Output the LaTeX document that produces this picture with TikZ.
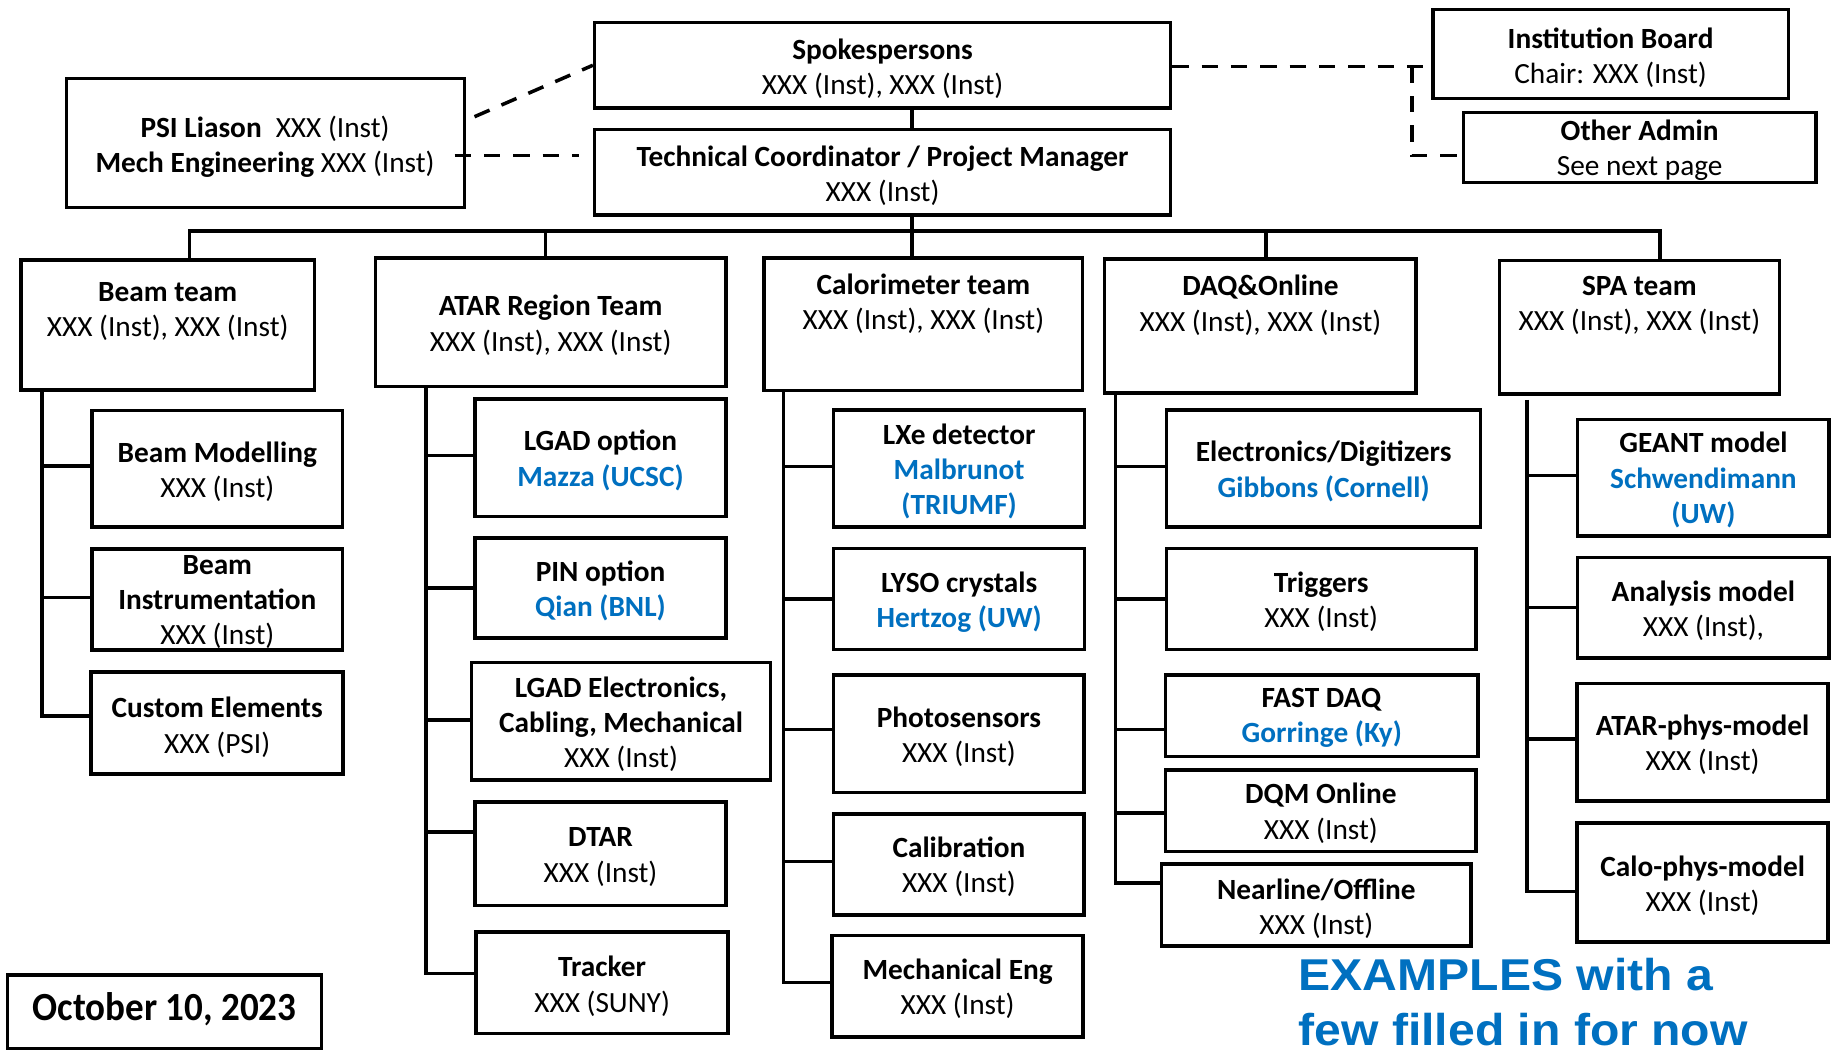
\documentclass[tikz,border=0pt]{standalone}
\usepackage{fontspec}
\usepackage{graphicx}
\setmainfont{Carlito}
\newfontfamily\arialfont{Liberation Sans}
\usetikzlibrary{fit,calc}
\definecolor{myblue}{RGB}{0,112,192}
\newcommand{\mystrut}{\vphantom{(}}
\newcommand{\bl}[1]{\textcolor{myblue}{\textbf{#1}}}
\newcommand{\branch}[3]{\draw[conn] ($(#2.west -| #1)+(0,#3)$) -- ($(#2.west)+(0,#3)$);}
\begin{document}
\begin{tikzpicture}[x=1pt,y=-1pt,
  box/.style={draw, line width=3pt, inner sep=0pt, rectangle},
  txt/.style={align=center, inner sep=0pt, font={\fontsize{25}{30}\selectfont},
    execute at begin node=\mystrut, execute at end node=\mystrut},
  conn/.style={line width=3pt},
  dsh/.style={line width=3pt, dash pattern=on 14pt off 11pt}]
\fill[white] (0,0) rectangle (1568,895);
\useasboundingbox (0,0) rectangle (1568,895);

% ---- top level ----
\node[box, fit={(507,19.3)(998,92)}] (spk) {};
\node[txt] (spk-t) at (752.5,58.5) {\textbf{Spokespersons}\\XXX (Inst), XXX (Inst)};
\node[box, fit={(507,110.3)(998,183.3)}] (tc) {};
\node[txt] (tc-t) at (752.5,149.5) {\textbf{Technical Coordinator / Project Manager}\\XXX (Inst)};
\node[box, fit={(56.6,66.8)(396.2,177.1)}] (psi) {};
\node[txt] (psi-t) at (226,125.3) {\textbf{PSI Liason}\hspace{12pt}XXX (Inst)\\\textbf{Mech Engineering} XXX (Inst)};
\node[box, fit={(1221.6,8)(1524.8,83.8)}] (ib) {};
\node[txt] (ib-t) at (1373.2,49) {\textbf{Institution Board}\\Chair: XXX (Inst)};
\node[box, fit={(1247.7,96)(1548.4,155.8)}] (oa) {};
\node[txt] (oa-t) at (1398,127.8) {\textbf{Other Admin}\\See next page};

% ---- teams ----
\node[box, fit={(17.8,221.7)(268,332.5)}] (beam) {};
\node[txt] (beam-t) at (143,265.8) {\textbf{Beam team}\\XXX (Inst), XXX (Inst)};
\node[box, fit={(320,220)(619,329.7)}] (atar) {};
\node[txt] (atar-t) at (469.5,277.3) {\textbf{ATAR Region Team}\\XXX (Inst), XXX (Inst)};
\node[box, fit={(651.6,220)(923,333)}] (calo) {};
\node[txt] (calo-t) at (787.3,259) {\textbf{Calorimeter team}\\XXX (Inst), XXX (Inst)};
\node[box, fit={(941.8,221)(1207.5,335)}] (daq) {};
\node[txt] (daq-t) at (1074.7,260.3) {\textbf{DAQ\&Online}\\XXX (Inst), XXX (Inst)};
\node[box, fit={(1278.4,222.3)(1517.2,336)}] (spa) {};
\node[txt] (spa-t) at (1397.8,260.4) {\textbf{SPA team}\\XXX (Inst), XXX (Inst)};

% ---- beam column ----
\node[box, fit={(78.5,350)(292,449.5)}] (bmod) {};
\node[txt] (bmod-t) at (185.3,402) {\textbf{Beam Modelling}\\XXX (Inst)};
\node[box, fit={(78.5,468)(292,554)}] (binst) {};
\node[txt] (binst-t) at (185.3,513.5) {\textbf{Beam}\\\textbf{Instrumentation}\\XXX (Inst)};
\node[box, fit={(77.8,573)(292.6,660)}] (cust) {};
\node[txt] (cust-t) at (185.2,620) {\textbf{Custom Elements}\\XXX (PSI)};

% ---- ATAR column ----
\node[box, fit={(405,340)(619,440.5)}] (lgad) {};
\node[txt] (lgad-t) at (512,392.5) {\textbf{LGAD option}\\\bl{Mazza (UCSC)}};
\node[box, fit={(405,458.5)(619,544)}] (pin) {};
\node[txt] (pin-t) at (512,503.9) {\textbf{PIN option}\\\bl{Qian (BNL)}};
\node[box, fit={(402,565)(657,665)}] (lgel) {};
\node[txt] (lgel-t) at (529.5,617.7) {\textbf{LGAD Electronics,}\\\textbf{Cabling, Mechanical}\\XXX (Inst)};
\node[box, fit={(405,684)(619,772)}] (dtar) {};
\node[txt] (dtar-t) at (512,730.7) {\textbf{DTAR}\\XXX (Inst)};
\node[box, fit={(406,794.5)(620.8,881)}] (trk) {};
\node[txt] (trk-t) at (513.4,840.9) {\textbf{Tracker}\\XXX (SUNY)};

% ---- Calorimeter column ----
\node[box, fit={(710.8,349.6)(924.8,449.5)}] (lxe) {};
\node[txt] (lxe-t) at (817.8,401.8) {\textbf{LXe detector}\\\bl{Malbrunot}\\\bl{(TRIUMF)}};
\node[box, fit={(710.8,467.5)(924.8,553.6)}] (lyso) {};
\node[txt] (lyso-t) at (817.8,513.3) {\textbf{LYSO crystals}\\\bl{Hertzog (UW)}};
\node[box, fit={(710.8,575.5)(924.4,675.6)}] (phot) {};
\node[txt] (phot-t) at (817.6,628) {\textbf{Photosensors}\\XXX (Inst)};
\node[box, fit={(710.8,694)(924.4,780.2)}] (calib) {};
\node[txt] (calib-t) at (817.6,738.9) {\textbf{Calibration}\\XXX (Inst)};
\node[box, fit={(709.5,797.8)(923.5,884)}] (mech) {};
\node[txt] (mech-t) at (816.5,843) {\textbf{Mechanical Eng}\\XXX (Inst)};

% ---- DAQ column ----
\node[box, fit={(994.7,349.6)(1262.5,449.5)}] (elec) {};
\node[txt] (elec-t) at (1128.6,401.9) {\textbf{Electronics/Digitizers}\\\bl{Gibbons (Cornell)}};
\node[box, fit={(994.7,467.5)(1258.4,553.6)}] (trig) {};
\node[txt] (trig-t) at (1126.5,513.2) {\textbf{Triggers}\\XXX (Inst)};
\node[box, fit={(993.9,575.5)(1260,645.2)}] (fast) {};
\node[txt] (fast-t) at (1127,612) {\textbf{FAST DAQ}\\\bl{Gorringe (Ky)}};
\node[box, fit={(993.9,656.5)(1258.4,726.2)}] (dqm) {};
\node[txt] (dqm-t) at (1126.2,693.4) {\textbf{DQM Online}\\XXX (Inst)};
\node[box, fit={(990.5,736.7)(1254.3,806.6)}] (near) {};
\node[txt] (near-t) at (1122.4,774.5) {\textbf{Nearline/Offline}\\XXX (Inst)};

% ---- SPA column ----
\node[box, fit={(1345.2,357.6)(1559.6,457)}] (geant) {};
\node[txt] (geant-t) at (1452.4,409.2) {\textbf{GEANT model}\\\bl{Schwendimann}\\\bl{(UW)}};
\node[box, fit={(1345.2,475.2)(1559.6,561)}] (anal) {};
\node[txt] (anal-t) at (1452.4,520.4) {\textbf{Analysis model}\\XXX (Inst),};
\node[box, fit={(1344.7,582.6)(1558.7,683)}] (aphys) {};
\node[txt] (aphys-t) at (1451.7,635.3) {\textbf{ATAR-phys-model}\\XXX (Inst)};
\node[box, fit={(1344.7,701.5)(1558.7,803)}] (cphys) {};
\node[txt] (cphys-t) at (1451.7,754.9) {\textbf{Calo-phys-model}\\XXX (Inst)};

% ---- date and note ----
\node[box, fit={(6.3,831.4)(274.3,893.9)}] (date) {};
\node[inner sep=0pt, font={\fontsize{34}{40}\selectfont\bfseries},
  execute at begin node=\mystrut] (date-t) at (140.3,860) {\scalebox{0.93}[1]{October 10, 2023}};
\node[inner sep=0pt, align=left, anchor=west, text=myblue,
  font={\fontsize{38}{47}\selectfont\arialfont\bfseries},
  execute at begin node=\mystrut, execute at end node=\mystrut] (note) at (1107,858.3)
  {\scalebox{1.08}[1]{EXAMPLES with a}\\\scalebox{1.08}[1]{few filled in for now}};

% ---- solid connectors ----
\coordinate (d1) at (161.5,197);
\coordinate (d2) at (465,197);
\coordinate (tr) at (777.6,197);
\coordinate (d4) at (1079.5,197);
\coordinate (d5) at (1415.5,197);
\draw[conn] (beam.north -| d1) -- (d1) -- (d5) -- (spa.north -| d5);
\draw[conn] (d2) -- (atar.north -| d2);
\draw[conn] (d4) -- (daq.north -| d4);
\draw[conn] (spk.south -| tr) -- (tc.north -| tr);
\draw[conn] (tc.south -| tr) -- (calo.north -| tr);

\coordinate (cb) at (36,0);
\coordinate (ca) at (363,0);
\coordinate (cc) at (668,0);
\coordinate (cd) at (951.3,0);
\coordinate (cs) at (1302,341);

\draw[conn] (beam.south -| cb) -- ($(cust.west -| cb)+(0,-6)$) -- ($(cust.west)+(0,-6)$);
\branch{cb}{bmod}{-2.4}
\branch{cb}{binst}{-1.4}

\draw[conn] (atar.south -| ca) -- ($(trk.west -| ca)+(0,-7.75)$) -- ($(trk.west)+(0,-7.75)$);
\branch{ca}{lgad}{-2}
\branch{ca}{pin}{0}
\branch{ca}{lgel}{-1}
\branch{ca}{dtar}{-18.5}

\draw[conn] (calo.south -| cc) -- ($(mech.west -| cc)+(0,-3)$) -- ($(mech.west)+(0,-3)$);
\branch{cc}{lxe}{-2}
\branch{cc}{lyso}{0}
\branch{cc}{phot}{-3.6}
\branch{cc}{calib}{-2.4}

\draw[conn] (daq.south -| cd) -- ($(near.west -| cd)+(0,-19)$) -- ($(near.west)+(0,-19)$);
\branch{cd}{elec}{-2}
\branch{cd}{trig}{0}
\branch{cd}{fast}{11.5}
\branch{cd}{dqm}{2}

\draw[conn] (cs) -- ($(cphys.west -| cs)+(0,8)$) -- ($(cphys.west)+(0,8)$);
\branch{cs}{geant}{-2}
\branch{cs}{anal}{0}
\branch{cs}{aphys}{-2.8}

% ---- dashed connectors ----
\coordinate (ps) at (404.6,99.5);
\coordinate (pl) at (387.7,132.7);
\coordinate (dj) at (1203.7,56.9);
\coordinate (dk) at (1203.7,132.7);
\draw[dsh] (ps) -- (spk.west);
\draw[dsh] (pl) -- ($(tc.west |- pl)+(-11.5,0)$);
\draw[dsh] (spk.east |- dj) -- (ib.west |- dj);
\draw[dsh] (dj) -- (dk) -- (oa.west |- dk);
\end{tikzpicture}
\end{document}
